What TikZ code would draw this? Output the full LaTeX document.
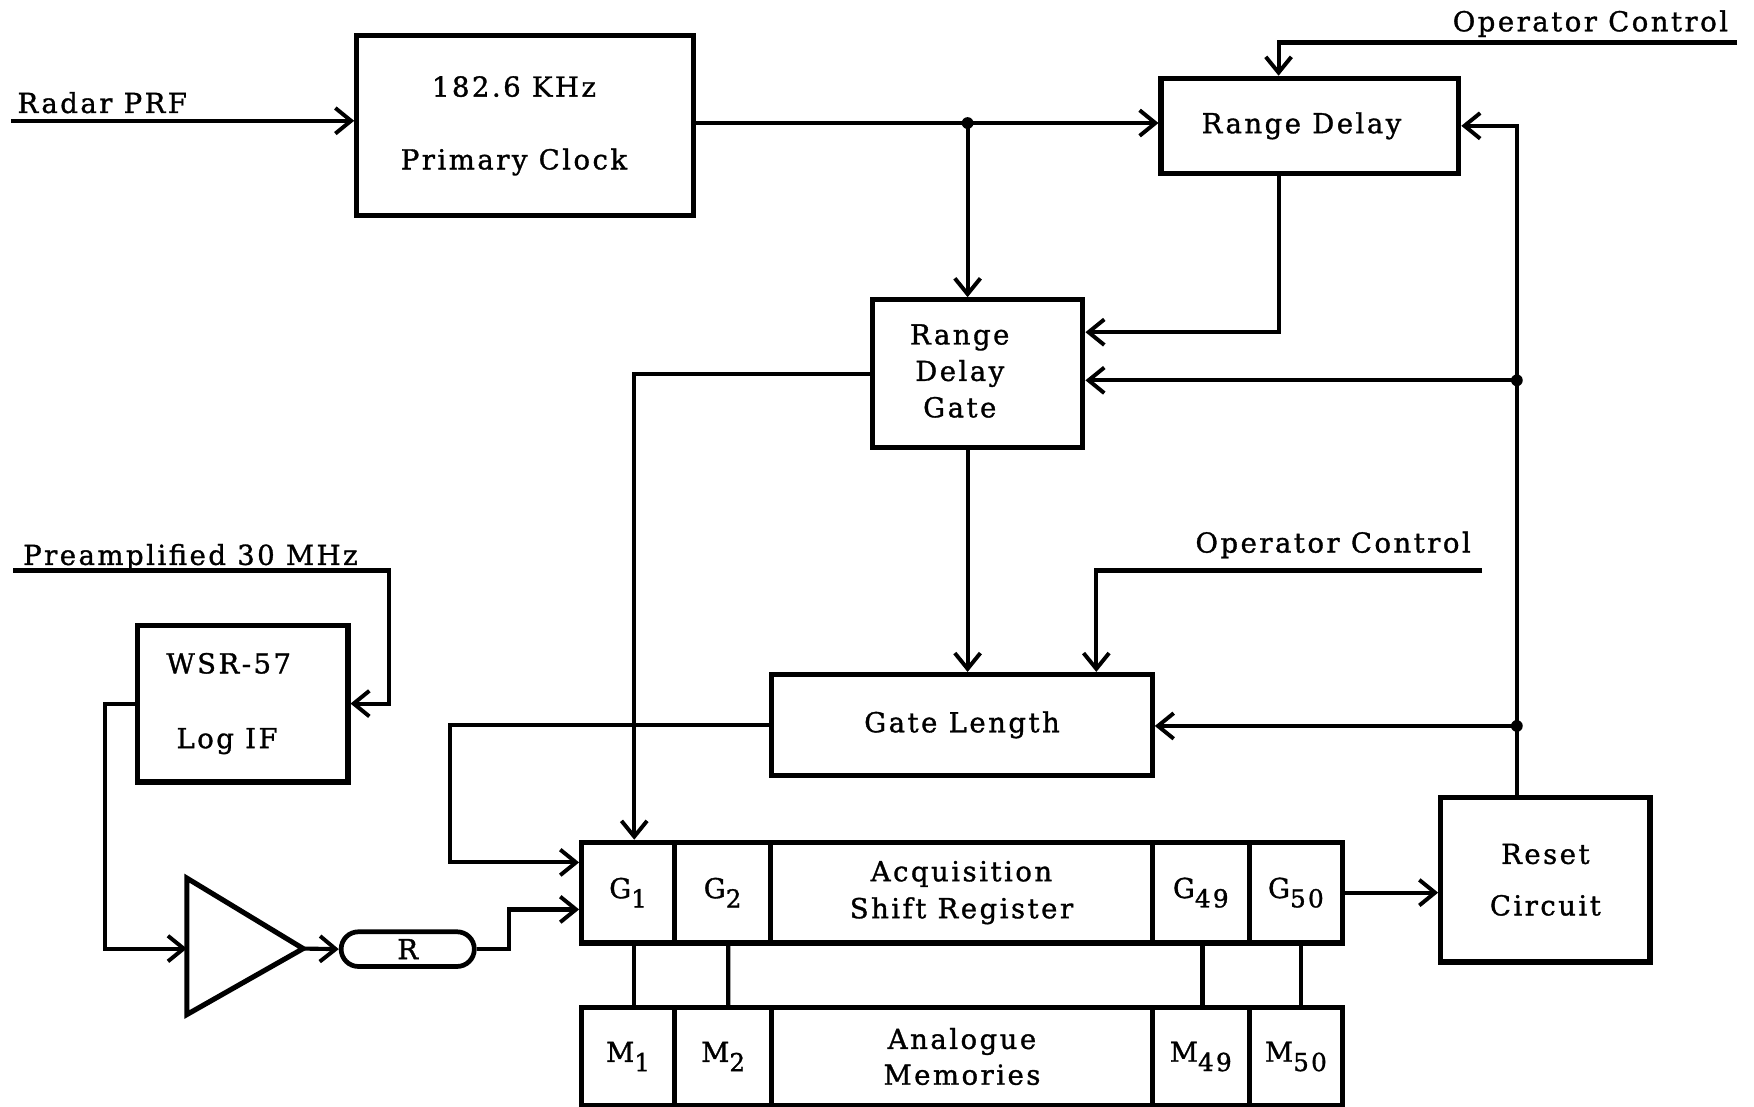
\documentclass[tikz,border=0pt]{standalone}
\usepackage{fontspec}
\setmainfont{DejaVu Serif}[LetterSpace=9,FakeBold=1.2]
\usetikzlibrary{arrows.meta,calc}
\newcommand\sbs[1]{\raisebox{-0.65ex}{\fontsize{6.3}{6.3}\selectfont #1}}
\begin{document}
\begin{tikzpicture}[x=0.01cm, y=-0.01cm,
  lab/.style={font=\fontsize{7}{8.5}\selectfont, inner sep=0pt},
  box/.style={draw, line width=1.3pt, inner sep=0pt, align=center, font=\fontsize{7}{8.5}\selectfont},
  cell/.style={box},
  wire/.style={line width=1.05pt},
  arr/.style={wire, -{Straight Barb[length=4pt,width=6.5pt,line width=1pt]}},
  jdot/.style={fill=black}]
\useasboundingbox (0,0) rectangle (1568,989);

% ---- boxes ----
\node[box, minimum width=3.01cm, minimum height=1.61cm] (clock) at (469.5,112.5) {\hspace*{-0.2cm}182.6 KHz\\[10pt]\hspace*{-0.2cm}Primary Clock};
\node[box, minimum width=2.66cm, minimum height=0.85cm] (rdelay) at (1171,112.5) {Range Delay\hspace*{0.15cm}};
\node[draw, line width=1.3pt, inner sep=0pt, font=\fontsize{7}{8.5}\selectfont, minimum width=1.88cm, minimum height=1.32cm] (rdg) at (874,334) {{\def\arraystretch{1.09}\begin{tabular}{@{}c@{}}Range\\Delay\\Gate\end{tabular}}\hspace*{0.32cm}};
\node[box, minimum width=3.40cm, minimum height=0.90cm] (glen) at (860,648) {Gate Length};
\node[box, minimum width=1.87cm, minimum height=1.47cm] (reset) at (1381.5,786.5) {Reset\\[4.6pt]Circuit};
\node[box, minimum width=1.88cm, minimum height=1.40cm] (logif) at (217,629) {WSR-57\hspace*{0.25cm}\\[10.5pt]Log IF\hspace*{0.28cm}};
\node[draw, line width=1.2pt, rounded corners=4.4pt, minimum width=1.19cm, minimum height=0.31cm, inner sep=0pt, font=\fontsize{7}{8.5}\selectfont] (rbox) at (364.5,848.5) {R};

% shift register row
\node[cell, minimum width=0.83cm, minimum height=0.90cm] (g1) at (561.5,798) {G\sbs{1}};
\node[cell, minimum width=0.86cm, minimum height=0.90cm] (g2) at (646,798) {G\sbs{2}};
\node[cell, minimum width=3.41cm, minimum height=0.90cm] (asr) at (859.5,798) {Acquisition\\[0.9pt]Shift Register};
\node[cell, minimum width=0.87cm, minimum height=0.90cm] (g49) at (1073.5,798) {G\sbs{49}};
\node[cell, minimum width=0.83cm, minimum height=0.90cm] (g50) at (1158.5,798) {G\sbs{50}};

% memories row
\node[cell, minimum width=0.83cm, minimum height=0.87cm] (m1) at (561.5,944.5) {M\sbs{1}};
\node[cell, minimum width=0.87cm, minimum height=0.87cm] (m2) at (646.5,944.5) {M\sbs{2}};
\node[cell, minimum width=3.40cm, minimum height=0.87cm] (am) at (860,944.5) {Analogue\\[0.6pt]Memories};
\node[cell, minimum width=0.87cm, minimum height=0.87cm] (m49) at (1073.5,944.5) {M\sbs{49}};
\node[cell, minimum width=0.83cm, minimum height=0.87cm] (m50) at (1158.5,944.5) {M\sbs{50}};

% amplifier
\coordinate (a1) at (167,785);
\coordinate (a2) at (167,907);
\coordinate (ampout) at (271,848);
\coordinate (ampin) at (167,848);
\draw[line width=1.3pt, line join=miter] (a1) -- (ampout) -- (a2) -- cycle;

% ---- labels ----
\node[lab, anchor=base west] (tprf) at (15,101) {Radar PRF};
\node[lab, anchor=base west] (toc1) at (1298,28) {Operator Control};
\node[lab, anchor=base west] (toc2) at (1068,494) {Operator Control};
\node[lab, anchor=base west] (tpre) at (20,505) {Preamplified 30 MHz};

% ---- coordinates ----
\coordinate (prf) at (10,108);
\coordinate (j1) at (865,110);
\coordinate (oc1) at (1553,38);
\coordinate (oc2) at (1325,510);
\coordinate (pre) at (12,510);
\coordinate (j2) at (1356,340);
\coordinate (j3) at (1356,649);

% ---- connectors ----
\draw[arr] (prf) -- (prf -| clock.west);
\draw[arr] (j1 -| clock.east) -- (j1 -| rdelay.west);
\draw[arr] (j1) -- (j1 |- rdg.north);
\draw[arr] (oc1) -| ([xshift=-0.28cm]rdelay.north);
\draw[arr] ([xshift=-0.28cm]rdelay.south) |- ([yshift=0.37cm]rdg.east);
\draw[arr] ([xshift=-0.255cm]reset.north) |- (rdelay.east);
\draw[arr] (j2) -- (j2 -| rdg.east);
\draw[arr] (j3) -- (j3 -| glen.east);
\draw[arr] (rdg.west) -| ([xshift=0.055cm]g1.north);
\draw[arr] ([xshift=-0.09cm]rdg.south) -- ([xshift=-0.09cm]rdg.south |- glen.north);
\draw[arr] (oc2) -| ([xshift=1.2cm]glen.north);
\draw[arr] (glen.west) -- ++(-285,0) |- ([yshift=0.27cm]g1.west);
\draw[arr] (g50.east) -- (g50.east -| reset.west);
\draw[arr] (pre) -- ++(336,0) |- (logif.east);
\draw[arr] (logif.west) -- ++(-27,0) |- (ampin);
\draw[arr] (ampout) -- (rbox.west);
\draw[arr] (rbox.east) -- ++(29,0) |- ([yshift=-0.15cm]g1.west);

\draw[wire] ([xshift=0.055cm]g1.south) -- ([xshift=0.055cm]m1.north);
\draw[wire] ([xshift=0.05cm]g2.south) -- ([xshift=0.045cm]m2.north);
\draw[wire] ([xshift=0.015cm]g49.south) -- ([xshift=0.015cm]m49.north);
\draw[wire] ([xshift=0.045cm]g50.south) -- ([xshift=0.045cm]m50.north);

\fill[jdot] (j1) circle (1.5pt);
\fill[jdot] (j2) circle (1.5pt);
\fill[jdot] (j3) circle (1.5pt);
\end{tikzpicture}
\end{document}
